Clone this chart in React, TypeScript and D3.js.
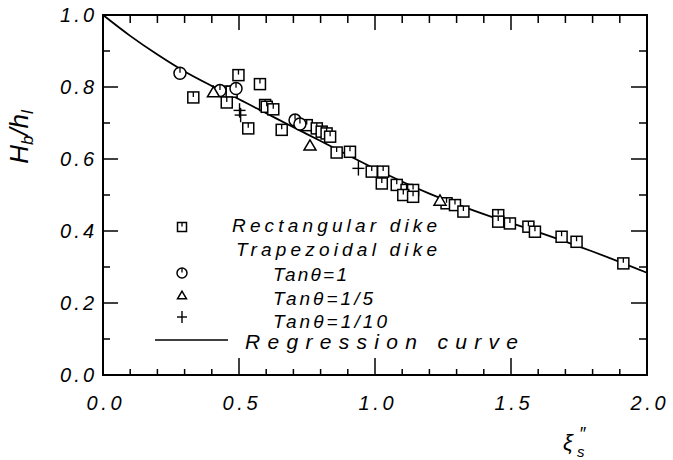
import React from "react";
import * as d3 from "d3";

const W = 673;
const H = 460;
const M = { left: 103, right: 647, top: 15, bottom: 375 };

const xTickLabels = ["0.0", "0.5", "1.0", "1.5", "2.0"];
const yTickLabels = ["0.0", "0.2", "0.4", "0.6", "0.8", "1.0"];

const rectX = [0.332, 0.498, 0.577, 0.455, 0.473, 0.455, 0.534, 0.596, 0.602, 0.626, 0.657, 0.749, 0.786, 0.804, 0.822, 0.835, 0.859, 0.908, 0.988, 1.03, 1.025, 1.08, 1.116, 1.14, 1.104, 1.14, 1.263, 1.294, 1.325, 1.453, 1.453, 1.496, 1.564, 1.588, 1.686, 1.741, 1.913];
const rectY = [0.771, 0.833, 0.808, 0.787, 0.787, 0.757, 0.685, 0.75, 0.745, 0.738, 0.681, 0.694, 0.685, 0.676, 0.671, 0.662, 0.618, 0.62, 0.565, 0.565, 0.532, 0.528, 0.514, 0.514, 0.5, 0.495, 0.477, 0.472, 0.454, 0.444, 0.426, 0.421, 0.412, 0.398, 0.384, 0.37, 0.31];

const tan1X = [0.283, 0.43, 0.489, 0.706, 0.724];
const tan1Y = [0.838, 0.79, 0.796, 0.708, 0.697];

const tan5X = [0.406, 0.761, 1.239];
const tan5Y = [0.787, 0.639, 0.486];

const tan10X = [0.502, 0.506, 0.939];
const tan10Y = [0.735, 0.722, 0.574];

const curveX = [0, 0.1, 0.2, 0.3, 0.4, 0.5, 0.6, 0.7, 0.8, 0.9, 1.0, 1.2, 1.4, 1.6, 1.8, 2.0];
const curveY = [1.0, 0.942, 0.89, 0.843, 0.803, 0.766, 0.727, 0.688, 0.65, 0.611, 0.573, 0.504, 0.447, 0.397, 0.343, 0.284];

const FONT = "'Liberation Sans', Arial, sans-serif";

function Square({ x, y, s }: { x: number; y: number; s: number }) {
  const h = s / 2;
  return (
    <g>
      <rect x={x - h} y={y - h} width={s} height={s} fill="white" stroke="black" strokeWidth={1.5} />
      <line x1={x} x2={x} y1={y - h} y2={y - h + s * 0.45} stroke="black" strokeWidth={1.3} />
    </g>
  );
}
function Circ({ x, y, r }: { x: number; y: number; r: number }) {
  return (
    <g>
      <circle cx={x} cy={y} r={r} fill="white" stroke="black" strokeWidth={1.5} />
      <line x1={x} x2={x} y1={y - r} y2={y - r + r * 0.9} stroke="black" strokeWidth={1.3} />
    </g>
  );
}
function Tri({ x, y, s }: { x: number; y: number; s: number }) {
  const h = s * 0.85;
  const p = `${x},${y - h / 2} ${x - s / 2},${y + h / 2} ${x + s / 2},${y + h / 2}`;
  return <polygon points={p} fill="white" stroke="black" strokeWidth={1.5} />;
}
function Plus({ x, y, s }: { x: number; y: number; s: number }) {
  const h = s / 2;
  return (
    <g stroke="black" strokeWidth={1.4}>
      <line x1={x - h} x2={x + h} y1={y} y2={y} />
      <line x1={x} x2={x} y1={y - h * 1.2} y2={y + h * 1.2} />
    </g>
  );
}

export default function App() {
  const x = d3.scaleLinear().domain([0, 2]).range([M.left, M.right]);
  const y = d3.scaleLinear().domain([0, 1]).range([M.bottom, M.top]);

  const xTicks = d3.range(0, 21).map((i) => i / 10);
  const yTicks = d3.range(0, 11).map((i) => i / 10);

  const curvePts: [number, number][] = curveX.map((v, i) => [v, curveY[i]]);
  const line = d3
    .line<[number, number]>()
    .x((d) => x(d[0]))
    .y((d) => y(d[1]))
    .curve(d3.curveMonotoneX);

  return (
    <svg width={W} height={H} style={{ position: "absolute", left: 0, top: 0, background: "white" }} fontFamily={FONT}>
      <rect x={0} y={0} width={W} height={H} fill="white" />
      {/* frame */}
      <rect x={M.left} y={M.top} width={M.right - M.left} height={M.bottom - M.top} fill="none" stroke="black" strokeWidth={2} />
      {/* x ticks */}
      {xTicks.map((t, i) => {
        const major = i % 5 === 0;
        const px = x(t);
        return (
          <g key={"xt" + i} stroke="black" strokeWidth={1.5}>
            <line x1={px} x2={px} y1={M.bottom} y2={M.bottom - (major ? 17 : 6)} />
            <line x1={px} x2={px} y1={M.top} y2={M.top + (major ? 15 : 8)} />
          </g>
        );
      })}
      {yTicks.map((t, i) => {
        const major = i % 2 === 0;
        const py = y(t);
        return (
          <g key={"yt" + i} stroke="black" strokeWidth={1.5}>
            <line x1={M.left} x2={M.left + (major ? 15 : 7)} y1={py} y2={py} />
            <line x1={M.right} x2={M.right - (major ? 16 : 8)} y1={py} y2={py} />
          </g>
        );
      })}
      {/* tick labels */}
      {xTickLabels.map((l) => (
        <text key={"xl" + l} x={x(+l) + 1} y={410} fontSize={20} fontStyle="italic" textAnchor="middle" textLength={35} lengthAdjust="spacing">
          {l}
        </text>
      ))}
      {yTickLabels.map((l) => (
        <text key={"yl" + l} x={94} y={y(+l) + 7} fontSize={20} fontStyle="italic" textAnchor="end" textLength={34} lengthAdjust="spacing">
          {l}
        </text>
      ))}
      {/* axis titles */}
      <text transform="translate(28,137) rotate(-90)" fontSize={26} fontStyle="italic" textAnchor="middle">
        H<tspan fontSize={17} dy={5}>b</tspan>
        <tspan dy={-5}>/h</tspan>
        <tspan fontSize={17} dy={5}>l</tspan>
      </text>
      <text x={563} y={450} fontSize={22} fontStyle="italic">ξ</text>
      <text x={577} y={457} fontSize={15} fontStyle="italic">s</text>
      <text x={579} y={440} fontSize={18} fontStyle="italic">″</text>

      {/* regression curve */}
      <path d={line(curvePts) || ""} fill="none" stroke="black" strokeWidth={1.8} />

      {/* data */}
      {rectX.map((v, i) => (
        <Square key={"r" + i} x={x(v)} y={y(rectY[i])} s={11} />
      ))}
      {tan1X.map((v, i) => (
        <Circ key={"c" + i} x={x(v)} y={y(tan1Y[i])} r={6} />
      ))}
      {tan5X.map((v, i) => (
        <Tri key={"t" + i} x={x(v)} y={y(tan5Y[i])} s={12} />
      ))}
      {tan10X.map((v, i) => (
        <Plus key={"p" + i} x={x(v)} y={y(tan10Y[i])} s={12} />
      ))}

      {/* legend */}
      <Square x={182} y={227} s={9} />
      <text x={232} y={232} fontSize={19} fontStyle="italic" textLength={205} lengthAdjust="spacing">Rectangular dike</text>
      <text x={236} y={256} fontSize={19} fontStyle="italic" textLength={201} lengthAdjust="spacing">Trapezoidal dike</text>
      <Circ x={182} y={273} r={5} />
      <text x={273} y={281} fontSize={19} fontStyle="italic" textLength={74} lengthAdjust="spacing">Tanθ=1</text>
      <Tri x={182} y={295} s={9} />
      <text x={273} y={305} fontSize={19} fontStyle="italic" textLength={100} lengthAdjust="spacing">Tanθ=1/5</text>
      <Plus x={182} y={317} s={10} />
      <text x={273} y={328} fontSize={19} fontStyle="italic" textLength={114} lengthAdjust="spacing">Tanθ=1/10</text>
      <line x1={155} x2={228} y1={340} y2={340} stroke="black" strokeWidth={1.6} />
      <text x={245} y={349} fontSize={21} fontStyle="italic" textLength={273} lengthAdjust="spacing">Regression curve</text>
    </svg>
  );
}
